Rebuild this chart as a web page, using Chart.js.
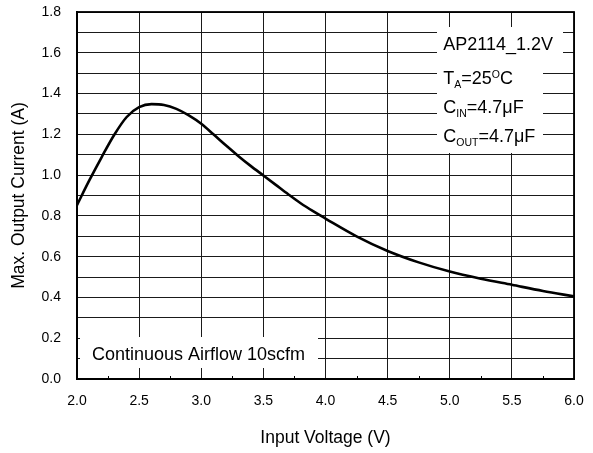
<!DOCTYPE html>
<html>
<head>
<meta charset="utf-8">
<script src="https://cdn.jsdelivr.net/npm/chart.js@4/dist/chart.umd.min.js"></script>
<style>
  html, body { margin: 0; padding: 0; background: #fff; }
  #wrap { width: 593px; height: 453px; }
</style>
</head>
<body>
<div id="wrap"><canvas id="c" width="593" height="453"></canvas></div>
<script>
// Input voltage (V)
const voltage = [2.0, 2.1, 2.2, 2.3, 2.4, 2.5, 2.6, 2.7, 2.8, 2.9, 3.0, 3.1, 3.2, 3.3, 3.4, 3.5, 3.6, 3.7, 3.8, 3.9, 4.0, 4.25, 4.5, 4.75, 5.0, 5.25, 5.5, 5.75, 6.0];
// Max. output current (A)
const current = [0.853, 0.975, 1.09, 1.198, 1.285, 1.333, 1.348, 1.344, 1.325, 1.293, 1.252, 1.199, 1.145, 1.093, 1.044, 0.998, 0.952, 0.906, 0.862, 0.823, 0.787, 0.70, 0.628, 0.572, 0.527, 0.492, 0.462, 0.432, 0.405];
const xMinorTicks = [2.25, 2.75, 3.25, 3.75, 4.25, 4.75, 5.25, 5.75];
const xTitle = 'Input Voltage (V)';
const yTitle = 'Max. Output Current (A)';
const noteLines = [
  [{t: 'AP2114_1.2V'}],
  [{t: 'T'}, {t: 'A', sub: true}, {t: '=25'}, {t: 'O', sup: true}, {t: 'C'}],
  [{t: 'C'}, {t: 'IN', sub: true}, {t: '=4.7\u03BCF'}],
  [{t: 'C'}, {t: 'OUT', sub: true}, {t: '=4.7\u03BCF'}]
];
const bottomNote = 'Continuous Airflow 10scfm';

const FONT = 'Arial, "Liberation Sans", sans-serif';

const decor = {
  id: 'decor',
  afterDraw(chart) {
    const ctx = chart.ctx;
    const a = chart.chartArea;
    const xs = chart.scales.x;
    ctx.save();
    // minor ticks
    ctx.strokeStyle = '#000';
    ctx.lineWidth = 1;
    xMinorTicks.forEach(v => {
      const px = Math.round(xs.getPixelForValue(v)) + 0.5;
      ctx.beginPath();
      ctx.moveTo(px, a.bottom);
      ctx.lineTo(px, a.bottom - 3);
      ctx.stroke();
    });
    // white boxes
    ctx.fillStyle = '#fff';
    ctx.fillRect(437, 27, 126, 34);
    ctx.fillRect(437, 61, 106, 92);
    ctx.fillRect(80, 337, 238, 31);
    // notes
    ctx.fillStyle = '#000';
    ctx.textBaseline = 'alphabetic';
    ctx.textAlign = 'left';
    const baselines = [49.5, 83.5, 112.7, 141.7];
    noteLines.forEach((parts, i) => {
      let x = 443.3;
      const by = baselines[i];
      parts.forEach(p => {
        let y = by;
        if (p.sub) { ctx.font = '10.5px ' + FONT; y = by + 4.5; }
        else if (p.sup) { ctx.font = '10.5px ' + FONT; y = by - 6; }
        else { ctx.font = '18px ' + FONT; }
        ctx.fillText(p.t, x, y);
        x += ctx.measureText(p.t).width;
      });
    });
    ctx.font = '18px ' + FONT;
    ctx.fillText(bottomNote, 92, 359.5);
    // frame
    ctx.strokeStyle = '#000';
    ctx.lineWidth = 1.8;
    ctx.strokeRect(a.left, a.top, a.right - a.left, a.bottom - a.top);
    ctx.restore();
  }
};

function zeroPad(s) { s.paddingTop = 0; s.paddingBottom = 0; s.paddingLeft = 0; s.paddingRight = 0; }

new Chart(document.getElementById('c'), {
  type: 'line',
  data: {
    datasets: [{
      data: voltage.map((v, i) => ({x: v, y: current[i]})),
      borderColor: '#000',
      borderWidth: 2.6,
      pointRadius: 0,
      fill: false,
      cubicInterpolationMode: 'monotone'
    }]
  },
  options: {
    responsive: false,
    animation: false,
    devicePixelRatio: 1,
    layout: { padding: { top: 12, right: 19, left: 0, bottom: 0 } },
    plugins: { legend: { display: false }, tooltip: { enabled: false } },
    scales: {
      x: {
        type: 'linear', min: 2, max: 6,
        afterFit: s => { s.height = 74; zeroPad(s); },
        grid: { color: '#1a1a1a', lineWidth: 1, drawTicks: false },
        border: { display: true, color: '#000', width: 2 },
        ticks: {
          stepSize: 0.5, autoSkip: false, maxRotation: 0, padding: 14,
          color: '#000', font: { family: FONT, size: 14 },
          callback: v => Number(v).toFixed(1)
        },
        title: {
          display: true, text: xTitle, color: '#000',
          font: { family: FONT, size: 17.5 }, padding: { top: 0, bottom: 4 }
        }
      },
      y: {
        type: 'linear', min: 0, max: 1.8,
        afterFit: s => { s.width = 77; zeroPad(s); },
        grid: { color: '#1a1a1a', lineWidth: 1, drawTicks: false },
        border: { display: true, color: '#000', width: 2 },
        ticks: {
          stepSize: 0.1, autoSkip: false, padding: 16,
          color: '#000', font: { family: FONT, size: 14 },
          callback: v => (Math.round(v * 10) % 2 === 0 ? Number(v).toFixed(1) : '')
        },
        title: {
          display: true, text: yTitle, color: '#000',
          font: { family: FONT, size: 17.5 }, padding: { top: 8.5, bottom: 0 }
        }
      }
    }
  },
  plugins: [decor]
});
</script>
</body>
</html>
